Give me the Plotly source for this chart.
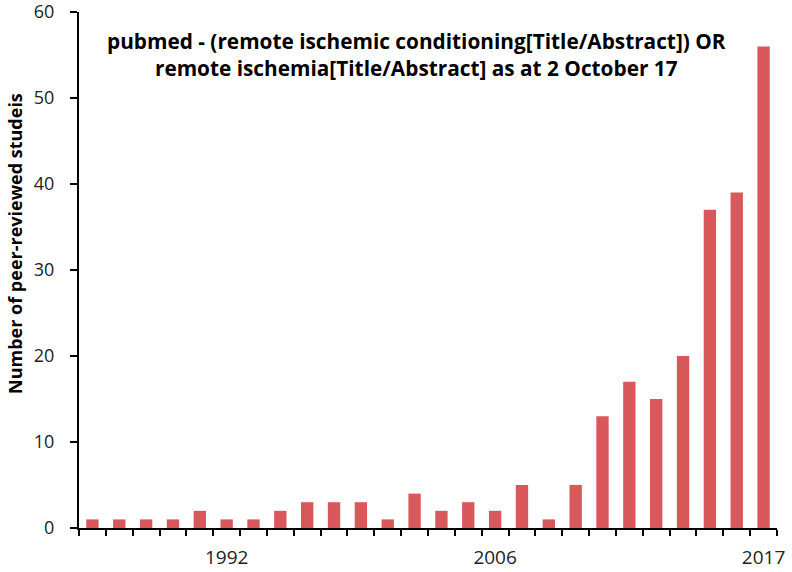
import plotly.graph_objects as go

# Data (26 bars, only three year labels shown)
bar_index = list(range(26))
counts = [1, 1, 1, 1, 2, 1, 1, 2, 3, 3, 3, 1, 4, 2, 3, 2, 5, 1, 5, 13, 17, 15, 20, 37, 39, 56]
label_positions = [5, 15, 25]
label_years = ["1992", "2006", "2017"]
y_ticks = [0, 10, 20, 30, 40, 50, 60]

FONT = "Open Sans"
BAR_COLOR = "#D9585B"

fig = go.Figure()
fig.add_trace(go.Bar(x=bar_index, y=counts, marker=dict(color=BAR_COLOR, line=dict(width=0)),
                     width=0.46))

fig.update_layout(
    width=792, height=572,
    margin=dict(l=79, r=15, t=12, b=44, autoexpand=False),
    paper_bgcolor="white", plot_bgcolor="white",
    showlegend=False,
    font=dict(family=FONT, size=17, color="black"),
    xaxis=dict(
        range=[-0.5, 25.5], tickmode="array", tickvals=label_positions, ticktext=label_years,
        ticks="", showgrid=False, zeroline=False, automargin=False,
        showline=True, linecolor="black", linewidth=2,
        ticklabeloverflow="allow", ticklabelstandoff=11,
        tickfont=dict(family=FONT, size=19, color="#222"),
        minor=dict(tickmode="linear", tick0=-0.5, dtick=1, ticks="outside", ticklen=6,
                   tickwidth=2, tickcolor="black", showgrid=False),
    ),
    yaxis=dict(
        range=[0, 60.0001], tickmode="array", tickvals=y_ticks,
        ticks="outside", ticklen=7, tickwidth=2, tickcolor="black",
        showgrid=False, zeroline=False, automargin=False,
        showline=True, linecolor="black", linewidth=2,
        ticklabeloverflow="allow", ticklabelstandoff=12,
        tickfont=dict(family=FONT, size=18, color="#222"),
    ),
)

fig.add_annotation(
    xref="paper", yref="paper", x=0.483, y=0.917, xanchor="center", yanchor="middle",
    text="<b>pubmed - (remote ischemic conditioning[Title/Abstract]) OR<br>remote ischemia[Title/Abstract] as at 2 October 17</b>",
    showarrow=False, font=dict(family=FONT, size=20.8, color="black"), align="center",
)
fig.add_annotation(
    xref="paper", yref="paper", x=-0.092, y=0.552, xanchor="center", yanchor="middle",
    text="<b>Number of peer-reviewed studeis</b>", textangle=-90,
    showarrow=False, font=dict(family=FONT, size=18, color="black"),
)

fig.write_html("out.html", config={"displayModeBar": False},
               post_script="document.body.style.margin='0';document.body.style.padding='0';")
